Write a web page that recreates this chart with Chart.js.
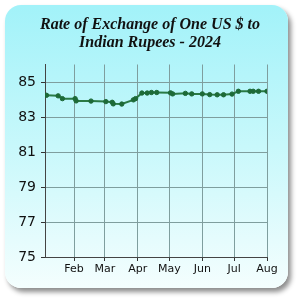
<!DOCTYPE html>
<html>
<head>
	<title>RupeeRate2024</title>
	<style>
		html, body { margin: 0; padding: 0; background: #ffffff; }
		#wrap { position: relative; width: 300px; height: 300px; }
		.card {
			position: absolute; left: 5px; top: 5px; width: 283px; height: 283px;
			border-radius: 16px;
			background: linear-gradient(to bottom, #a2f2f9 0%, #c8f8fb 50%, #f4fefe 100%);
			box-shadow: 3px 4px 5px rgba(0,0,0,0.45);
		}
		canvas { position: absolute; left: 0; top: 0; }
	</style>
	<script src="https://cdn.jsdelivr.net/npm/chart.js"></script>
</head>
<body>
	<div id="wrap">
		<div class="card"></div>
		<canvas id="rateChart" width="300" height="300"></canvas>
	</div>

	<script>
		// day of year (Jan 1 = 0) and INR per USD
		const days = [5, 16, 20, 32, 33, 47, 61, 67, 68, 76, 87, 89, 95, 100, 104, 109, 122, 124, 136, 142, 152, 159, 166, 172, 180, 186, 197, 200, 205, 213];
		const rates = [84.24, 84.21, 84.05, 84.05, 83.92, 83.91, 83.88, 83.84, 83.75, 83.74, 83.98, 84.05, 84.37, 84.37, 84.40, 84.40, 84.38, 84.32, 84.35, 84.32, 84.32, 84.28, 84.27, 84.27, 84.31, 84.47, 84.47, 84.47, 84.47, 84.47];

		const monthStarts = [31, 60, 91, 121, 152, 182, 213];
		const monthLabels = ['Feb', 'Mar', 'Apr', 'May', 'Jun', 'Jul', 'Aug'];
		const yTicks = [75, 77, 79, 81, 83, 85];

		const points = days.map((d, i) => ({ x: d, y: rates[i] }));

		const ctx = document.getElementById('rateChart').getContext('2d');
		new Chart(ctx, {
			type: 'line',
			data: {
				datasets: [{
					data: points,
					borderColor: '#2a7a45',
					borderWidth: 2,
					backgroundColor: '#1d5e34',
					pointBackgroundColor: '#1d6a38',
					pointBorderColor: '#1d6a38',
					pointBorderWidth: 1,
					pointRadius: 2.2,
					tension: 0
				}]
			},
			options: {
				responsive: false,
				animation: false,
				layout: { padding: 0 },
				plugins: {
					legend: { display: false },
					tooltip: { enabled: false },
					title: {
						display: true,
						text: ['Rate of Exchange of One US $ to', 'Indian Rupees - 2024'],
						color: '#111',
						font: { family: "'Liberation Serif', serif", size: 16, style: 'italic', weight: 'bold', lineHeight: 1.125 },
						padding: { top: 16, bottom: 12.5 }
					}
				},
				scales: {
					x: {
						type: 'linear',
						min: 3.6,
						max: 213,
						afterBuildTicks: s => { s.ticks = monthStarts.map(v => ({ value: v })); },
						// right gap comes from the axis padding so the title stays centred on the canvas
						afterFit: s => { s.height = 43; s.paddingRight = 33; },
						ticks: {
							autoSkip: false,
							maxRotation: 0,
							padding: 2,
							color: '#111',
							font: { family: 'DejaVu Sans', size: 11 },
							callback: (v) => monthLabels[monthStarts.indexOf(v)]
						},
						grid: { color: '#7f9e9e', lineWidth: 1, tickLength: 4, tickColor: '#333' },
						border: { color: '#444', width: 1 }
					},
					y: {
						min: 75,
						max: 86,
						afterBuildTicks: s => { s.ticks = yTicks.map(v => ({ value: v })); },
						afterFit: s => { s.width = 45; },
						ticks: {
							padding: 5,
							color: '#111',
							font: { family: 'DejaVu Sans', size: 14 }
						},
						grid: { color: '#7f9e9e', lineWidth: 1, tickLength: 4, tickColor: '#333' },
						border: { color: '#444', width: 1 }
					}
				}
			}
		});
	</script>
</body>
</html>
